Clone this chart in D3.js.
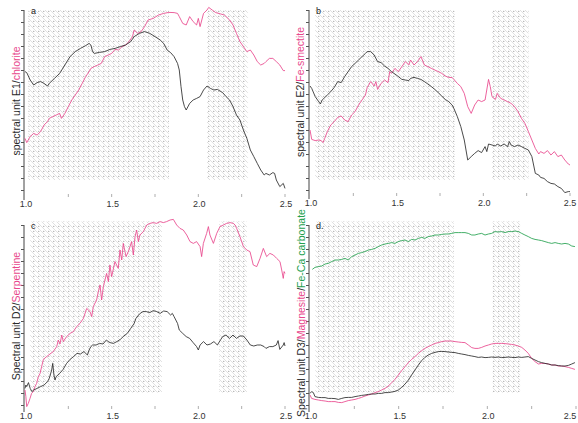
<!DOCTYPE html>
<html>
<head>
<meta charset="utf-8">
<script src="https://cdn.jsdelivr.net/npm/d3@7"></script>
<style>
  body { margin: 0; background: #fff; }
  svg { display: block; font-family: "Liberation Sans", Arial, sans-serif; }
</style>
</head>
<body>
<div id="chart"></div>
<script>
// wavelength (um) and relative reflectance

// panel a
var wlE1 = [1.00,1.01,1.03,1.05,1.07,1.09,1.11,1.13,1.14,1.17,1.20,1.23,1.26,1.29,1.32,1.35,1.37,1.38,1.39,1.40,
  1.43,1.46,1.49,1.52,1.55,1.58,1.61,1.63,1.66,1.69,1.72,1.75,1.78,1.80,1.82,1.84,1.86,1.88,1.89,1.90,
  1.91,1.92,1.93,1.95,1.97,1.99,2.01,2.03,2.05,2.07,2.09,2.11,2.13,2.14,2.16,2.18,2.20,2.22,2.24,2.26,
  2.28,2.30,2.32,2.34,2.36,2.38,2.39,2.41,2.43,2.44,2.45,2.47,2.49,2.50];
var unitE1 = [64.2,63.7,60.0,57.5,58.7,59.2,58.3,57.0,58.3,60.8,63.3,67.5,71.7,74.2,75.8,77.2,78.3,77.5,74.2,73.3,
  73.8,74.2,75.3,75.8,76.7,77.5,79.2,81.7,83.3,84.2,83.3,81.7,80.0,78.3,75.0,73.7,71.7,68.3,65.0,56.7,
  50.0,46.7,45.0,48.3,50.0,50.8,51.7,55.0,57.0,55.8,55.0,55.3,54.2,53.7,51.7,50.0,46.7,42.5,40.0,35.0,
  30.8,25.0,21.7,18.3,15.0,12.5,13.3,12.5,13.7,13.3,10.0,6.7,8.3,5.8];
var wlChl = [1.00,1.01,1.03,1.05,1.07,1.09,1.11,1.13,1.14,1.16,1.18,1.20,1.21,1.23,1.25,1.27,1.29,1.31,1.33,1.35,
  1.37,1.38,1.40,1.42,1.44,1.46,1.48,1.50,1.52,1.54,1.56,1.58,1.60,1.62,1.63,1.65,1.67,1.69,1.71,1.74,
  1.77,1.80,1.83,1.86,1.88,1.89,1.91,1.93,1.95,1.97,1.99,2.00,2.01,2.03,2.05,2.06,2.08,2.10,2.13,2.15,
  2.18,2.20,2.22,2.24,2.26,2.28,2.30,2.32,2.34,2.36,2.38,2.39,2.41,2.43,2.45,2.47,2.49,2.50];
var chlorite = [30.8,28.7,31.7,33.3,32.5,34.2,37.5,39.2,40.8,41.7,42.5,43.3,40.8,43.3,46.7,50.0,52.5,55.0,58.3,61.7,
  64.2,65.8,66.7,67.5,68.3,71.7,72.5,73.3,75.3,75.0,76.7,77.5,79.2,81.7,85.0,83.3,84.2,86.7,90.0,90.8,
  92.5,93.3,93.8,93.7,93.3,91.7,88.3,87.5,91.7,89.2,87.5,90.8,86.7,93.3,95.0,96.3,95.0,93.7,93.0,92.5,
  90.0,87.5,83.3,79.2,76.7,74.2,75.0,72.5,69.2,67.5,68.3,69.2,70.8,70.8,69.2,67.5,64.7,64.7];

// panel b
var wlE2 = [1.00,1.01,1.03,1.05,1.06,1.07,1.08,1.10,1.12,1.14,1.16,1.18,1.20,1.22,1.24,1.26,1.28,1.30,1.32,1.33,
  1.35,1.37,1.39,1.41,1.43,1.45,1.47,1.49,1.51,1.53,1.55,1.57,1.58,1.60,1.62,1.64,1.66,1.68,1.70,1.72,
  1.74,1.76,1.78,1.80,1.82,1.83,1.85,1.87,1.89,1.91,1.93,1.95,1.97,1.99,2.01,2.02,2.03,2.05,2.07,2.08,
  2.10,2.12,2.14,2.15,2.16,2.18,2.20,2.22,2.24,2.26,2.28,2.30,2.32,2.33,2.35,2.37,2.39,2.41,2.43,2.45,
  2.47,2.49,2.50];
var unitE2 = [57.0,55.8,51.7,49.2,48.0,50.0,50.8,52.5,54.2,56.3,59.2,58.7,61.7,64.2,66.7,68.3,70.0,71.7,73.3,74.2,
  74.2,72.5,69.2,68.7,67.0,65.8,64.2,63.0,61.7,60.3,60.0,59.7,60.8,61.3,60.8,60.3,59.2,58.0,56.7,55.3,
  53.7,52.0,50.3,49.2,47.5,45.8,41.7,36.7,30.0,20.0,21.7,23.3,24.7,23.7,26.7,24.2,28.0,27.5,27.0,28.0,
  27.0,28.0,26.7,29.2,27.5,26.7,27.5,26.7,25.8,25.0,21.7,13.3,12.5,11.3,10.8,9.2,8.3,8.0,6.7,5.8,
  3.7,4.2,4.2];
var wlSme = [1.00,1.01,1.03,1.05,1.065,1.075,1.085,1.10,1.12,1.14,1.16,1.18,1.20,1.22,1.24,1.26,1.28,1.30,1.32,1.33,
  1.35,1.37,1.38,1.39,1.41,1.43,1.45,1.46,1.47,1.49,1.51,1.53,1.55,1.57,1.58,1.60,1.62,1.64,1.66,1.68,
  1.70,1.72,1.74,1.76,1.78,1.80,1.82,1.83,1.85,1.87,1.89,1.91,1.93,1.95,1.97,1.99,2.01,2.03,2.04,2.05,
  2.07,2.08,2.10,2.12,2.14,2.16,2.18,2.20,2.22,2.24,2.26,2.28,2.30,2.32,2.33,2.35,2.37,2.39,2.41,2.43,
  2.45,2.47,2.49,2.50];
var smectite = [35.0,30.3,29.7,30.0,29.7,28.7,30.8,34.2,37.5,39.2,41.3,42.0,40.0,39.2,42.5,44.2,47.5,50.0,52.5,56.3,
  59.2,57.0,59.2,55.3,58.3,60.0,58.7,64.2,63.3,65.8,64.2,66.7,69.2,67.5,70.0,67.5,69.2,71.7,67.5,66.7,
  65.8,65.0,64.2,63.3,62.0,61.3,61.2,60.3,58.3,56.7,53.3,46.7,43.3,47.5,50.0,49.2,50.0,60.3,56.7,51.7,
  50.3,53.3,50.8,50.0,49.2,48.3,46.7,44.2,40.8,38.3,34.2,30.0,25.8,23.0,24.2,23.3,24.7,22.5,24.2,21.7,
  22.5,20.0,18.0,17.5];

// panel c
var wlD2 = [1.00,1.005,1.01,1.02,1.03,1.04,1.05,1.07,1.09,1.11,1.13,1.14,1.154,1.16,1.167,1.173,1.18,1.20,1.22,1.24,
  1.26,1.28,1.30,1.32,1.34,1.36,1.37,1.38,1.39,1.41,1.43,1.45,1.47,1.48,1.49,1.51,1.53,1.55,1.57,1.59,
  1.61,1.63,1.64,1.66,1.68,1.70,1.72,1.74,1.76,1.78,1.80,1.82,1.84,1.85,1.86,1.88,1.89,1.91,1.93,1.95,
  1.97,1.99,2.00,2.01,2.03,2.05,2.07,2.09,2.11,2.13,2.14,2.16,2.18,2.20,2.22,2.24,2.26,2.28,2.30,2.32,
  2.34,2.36,2.38,2.39,2.41,2.43,2.45,2.46,2.47,2.49,2.495,2.50];
var unitD2 = [10.8,12.5,11.7,13.7,10.8,9.2,10.0,10.8,11.7,12.5,14.2,15.8,20.0,23.3,17.5,15.0,16.7,18.3,20.3,23.3,
  25.3,26.7,28.3,28.0,29.2,27.5,30.0,31.7,32.5,32.5,33.3,33.0,35.0,34.2,33.7,33.3,34.2,35.3,37.0,38.3,
  40.8,43.3,45.8,48.0,49.2,49.2,48.7,49.7,49.2,48.3,49.5,49.2,47.5,48.3,46.7,43.3,40.0,38.3,36.7,35.8,
  33.7,31.7,30.0,32.5,34.2,32.5,33.0,34.2,32.5,35.3,36.7,37.5,35.8,37.5,35.8,37.0,37.0,35.0,32.5,32.0,
  32.5,32.5,31.7,30.8,31.7,31.7,32.5,34.7,30.3,32.5,33.7,32.0];
var wlSrp = [1.000,1.005,1.010,1.019,1.029,1.038,1.048,1.058,1.067,1.077,1.087,1.096,1.106,1.125,1.144,1.163,1.183,1.192,1.202,1.212,
  1.221,1.240,1.260,1.279,1.298,1.317,1.337,1.356,1.375,1.385,1.394,1.413,1.423,1.433,1.442,1.452,1.471,1.481,1.490,1.500,
  1.519,1.538,1.548,1.558,1.567,1.583,1.596,1.606,1.615,1.625,1.635,1.644,1.654,1.663,1.683,1.702,1.721,1.740,1.760,1.779,
  1.798,1.817,1.837,1.856,1.875,1.894,1.913,1.933,1.952,1.971,1.990,2.010,2.019,2.029,2.048,2.058,2.067,2.087,2.106,2.125,
  2.144,2.163,2.183,2.202,2.212,2.221,2.240,2.260,2.279,2.298,2.317,2.337,2.356,2.375,2.394,2.413,2.433,2.452,2.471,2.481,
  2.490,2.495,2.500];
var serpentine = [10.0,6.7,1.7,3.3,5.8,8.3,9.2,11.7,13.3,16.7,18.3,21.7,25.3,26.7,28.0,29.2,31.7,35.0,33.0,37.5,
  34.2,36.7,38.3,39.2,41.7,43.3,45.8,50.8,49.2,46.7,51.7,55.0,59.2,62.5,55.0,61.7,68.3,64.2,72.5,66.7,
  74.2,70.8,80.0,75.0,83.3,76.7,79.2,81.7,84.2,77.5,86.7,90.0,84.2,87.5,89.2,92.5,93.3,93.7,93.3,94.2,
  93.7,94.2,95.0,95.3,92.5,90.8,90.0,87.5,84.2,83.3,84.2,81.7,76.7,83.3,88.3,91.7,87.5,83.3,88.3,91.7,
  92.5,93.3,93.7,93.3,92.5,90.8,86.7,81.7,80.0,79.2,72.5,71.7,75.8,80.8,76.7,78.3,77.5,75.8,74.2,70.0,
  65.8,69.2,68.3];

// panel d
var wlD3 = [1.000,1.009,1.019,1.028,1.047,1.066,1.085,1.103,1.122,1.141,1.160,1.179,1.197,1.216,1.235,1.254,1.273,1.291,1.310,1.329,
  1.348,1.367,1.385,1.404,1.423,1.442,1.461,1.479,1.498,1.517,1.536,1.555,1.573,1.592,1.611,1.630,1.648,1.667,1.686,1.705,
  1.724,1.743,1.761,1.780,1.799,1.818,1.836,1.855,1.874,1.893,1.912,1.930,1.949,1.968,1.987,2.006,2.024,2.043,2.062,2.081,
  2.100,2.118,2.137,2.156,2.175,2.194,2.212,2.231,2.250,2.269,2.288,2.306,2.325,2.344,2.363,2.382,2.400,2.419,2.438,2.457,
  2.476,2.494];
var unitD3 = [8.3,9.2,8.7,6.7,6.3,6.2,6.2,5.8,5.8,5.7,5.3,5.8,6.2,6.3,6.3,6.7,7.0,7.3,7.5,7.8,
  8.0,8.0,8.3,8.3,8.7,8.7,9.0,9.3,10.0,11.3,13.0,15.0,17.5,20.0,22.5,24.7,26.3,27.5,28.3,28.8,
  29.2,29.3,29.2,29.0,28.8,28.7,28.3,28.0,27.7,27.3,27.0,26.7,26.3,26.5,26.2,26.3,26.5,26.3,26.5,26.2,
  26.3,26.5,26.3,26.2,26.5,26.3,26.5,26.7,25.8,25.0,24.2,23.7,23.3,23.0,22.5,22.5,22.2,22.0,22.0,22.3,
  23.0,23.7];
var wlMgs = [1.000,1.009,1.028,1.047,1.066,1.085,1.103,1.122,1.141,1.160,1.179,1.197,1.216,1.235,1.254,1.273,1.291,1.310,1.329,
  1.348,1.367,1.385,1.404,1.423,1.442,1.461,1.479,1.498,1.517,1.536,1.555,1.573,1.592,1.611,1.630,1.648,1.667,1.686,1.705,
  1.724,1.743,1.761,1.780,1.799,1.818,1.836,1.855,1.874,1.893,1.912,1.930,1.949,1.968,1.987,2.006,2.024,2.043,2.062,2.081,
  2.100,2.118,2.137,2.156,2.175,2.194,2.212,2.231,2.250,2.269,2.288,2.306,2.325,2.344,2.363,2.382,2.400,2.419,2.438,2.457,
  2.476,2.494];
var magnesite = [7.5,5.8,5.3,5.0,4.7,4.5,4.2,4.2,4.2,3.8,3.7,4.2,4.7,5.0,5.3,5.8,6.3,7.0,7.5,8.0,
  8.7,9.2,10.0,10.8,12.0,13.7,15.3,17.5,19.7,21.7,23.7,25.3,26.7,28.3,29.7,30.8,31.7,32.5,33.3,33.7,
  34.2,34.5,34.5,34.5,34.2,34.0,33.8,33.7,32.5,31.2,30.8,30.8,31.3,32.0,32.5,33.0,33.3,33.3,33.3,33.2,
  33.0,32.8,32.5,32.0,31.3,30.0,28.3,25.8,24.2,23.0,23.3,23.3,23.0,22.5,22.5,22.0,22.0,21.7,21.3,20.8,
  20.3];
var wlCarb = [1.013,1.028,1.047,1.066,1.085,1.103,1.122,1.141,1.160,1.179,1.197,1.216,1.235,1.254,1.273,1.291,1.310,1.329,
  1.348,1.367,1.385,1.404,1.423,1.442,1.461,1.479,1.498,1.517,1.536,1.555,1.573,1.592,1.611,1.630,1.648,1.667,1.686,1.705,
  1.724,1.743,1.761,1.780,1.799,1.818,1.836,1.855,1.874,1.893,1.912,1.930,1.949,1.968,1.987,2.006,2.024,2.043,2.062,2.081,
  2.100,2.118,2.137,2.156,2.175,2.194,2.212,2.231,2.250,2.269,2.288,2.306,2.325,2.344,2.363,2.382,2.400,2.419,2.438,2.457,
  2.476,2.494];
var carbonate = [70.3,71.3,71.7,72.0,73.0,73.3,74.2,75.0,75.0,75.3,75.8,75.0,76.7,77.5,78.3,78.7,79.2,80.0,80.3,80.8,
  81.7,82.5,83.0,83.3,83.7,83.3,84.2,84.7,85.0,84.2,85.3,85.0,85.8,86.3,85.8,86.7,87.0,87.5,87.5,87.8,
  88.0,88.0,88.3,88.7,88.7,88.7,88.7,88.3,87.5,87.5,88.0,88.3,87.5,88.0,88.3,89.2,89.0,89.2,88.7,89.2,
  89.2,89.5,89.2,88.3,87.5,86.7,85.8,85.3,85.0,84.7,84.2,83.7,83.3,83.7,83.3,83.0,83.3,83.0,82.0,81.7];

// shaded wavelength windows per panel
var bandsA = [[1.02, 1.83], [2.05, 2.285]];
var bandsB = [[1.03, 1.835], [2.05, 2.26]];
var bandsC = [[1.03, 1.79], [2.12, 2.28]];
var bandsD = [[1.03, 1.81], [2.03, 2.185]];

var xTicks = [1.0, 1.25, 1.5, 1.75, 2.0, 2.25, 2.5];
var xLabels = [1.0, 1.5, 2.0, 2.5];

var pink = "#e8478c", green = "#23a04e", dark = "#2b2b2b";

var panels = [
  { letter: "a", x: [25, 285], y: [200, 0], axisTop: 95, axisBot: 1, shade: [95, 10], bands: bandsA,
    titleX: 20, titleY: 101,
    title: [["spectral unit E1/", dark], ["chlorite", pink]],
    series: [[wlChl, chlorite, pink], [wlE1, unitE1, dark]] },
  { letter: "b", x: [310, 570], y: [200, 0], axisTop: 95, axisBot: 1.5, shade: [95, 10], bands: bandsB,
    titleX: 304, titleY: 92,
    title: [["spectral unit E2/", dark], ["Fe-smectite", pink]],
    series: [[wlSme, smectite, pink], [wlE2, unitE2, dark]] },
  { letter: "c", x: [25, 285], y: [410, 210], axisTop: 92.5, axisBot: 0, shade: [94.2, 8.7], bands: bandsC,
    titleX: 20, titleY: 316,
    title: [["Spectral unit D2/", dark], ["Serpentine", pink]],
    series: [[wlSrp, serpentine, pink], [wlD2, unitD2, dark]] },
  { letter: "d.", x: [310, 576], y: [410, 210], axisTop: 92.5, axisBot: 0, shade: [94.2, 8.7], bands: bandsD,
    titleX: 305, titleY: 313,
    title: [["Spectral unit D3/", dark], ["Magnesite", pink], ["/", dark], ["Fe-Ca carbonate", green]],
    series: [[wlCarb, carbonate, green], [wlMgs, magnesite, pink], [wlD3, unitD3, dark]] }
];

var svg = d3.select("#chart").append("svg")
  .attr("width", 578)
  .attr("height", 423);

// hatch + dot fill for the shaded windows
var pat = svg.append("defs").append("pattern")
  .attr("id", "hatch")
  .attr("width", 5)
  .attr("height", 5)
  .attr("patternUnits", "userSpaceOnUse");
pat.append("path")
  .attr("d", "M0,0 L5,5 M-1,4 L1,6 M4,-1 L6,1")
  .attr("stroke", "#d2d2d2")
  .attr("stroke-width", 0.7);
pat.append("circle")
  .attr("cx", 3.8).attr("cy", 1.3).attr("r", 0.5)
  .attr("fill", "#6a6a6a");

panels.forEach(function(p) {
  var x = d3.scaleLinear().domain([1, 2.5]).range(p.x);
  var y = d3.scaleLinear().domain([0, 100]).range(p.y);
  var g = svg.append("g");

  // shaded windows
  g.selectAll("rect.band")
    .data(p.bands)
    .enter()
    .append("rect")
    .attr("class", "band")
    .attr("x", d => x(d[0]))
    .attr("width", d => x(d[1]) - x(d[0]))
    .attr("y", y(p.shade[0]))
    .attr("height", y(p.shade[1]) - y(p.shade[0]))
    .attr("fill", "url(#hatch)");

  // left axis, unlabelled ticks
  var yAxis = d3.axisLeft(y)
    .tickValues(d3.range(p.axisTop, p.axisBot, -6))
    .tickSize(3)
    .tickSizeOuter(0)
    .tickFormat("");
  var ya = g.append("g")
    .attr("transform", `translate(${p.x[0] - 1},0)`)
    .call(yAxis);
  ya.select(".domain").attr("d", `M0,${y(p.axisTop)}V${y(p.axisBot) + 2}`).attr("stroke", "#444");
  ya.selectAll(".tick line").attr("stroke", "#555");

  // bottom ticks and labels, no axis line
  var base = y(p.axisBot);
  g.selectAll("line.xt")
    .data(xTicks.slice(1))
    .enter()
    .append("line")
    .attr("class", "xt")
    .attr("x1", d => x(d)).attr("x2", d => x(d))
    .attr("y1", base - 4).attr("y2", base - 1)
    .attr("stroke", "#999")
    .attr("stroke-width", 0.8);
  g.selectAll("text.xl")
    .data(xLabels)
    .enter()
    .append("text")
    .attr("class", "xl")
    .attr("x", d => Math.min(x(d) + 1, 570))
    .attr("y", base + 9)
    .attr("text-anchor", "middle")
    .attr("font-size", 9)
    .attr("fill", "#333")
    .text(d => d.toFixed(1));

  // spectra
  var line = d3.line()
    .x(d => x(d[0]))
    .y(d => y(d[1]));
  p.series.forEach(function(s) {
    g.append("path")
      .datum(d3.zip(s[0], s[1]))
      .attr("d", line)
      .attr("fill", "none")
      .attr("stroke", s[2])
      .attr("stroke-width", 0.85)
      .attr("stroke-linejoin", "round");
  });

  // panel letter
  g.append("text")
    .attr("x", p.x[0] + 6)
    .attr("y", y(p.axisTop) + 4)
    .attr("font-size", 9)
    .attr("fill", "#222")
    .text(p.letter);

  // y title in two colours
  var t = g.append("text")
    .attr("transform", `translate(${p.titleX},${p.titleY}) rotate(-90)`)
    .attr("text-anchor", "middle")
    .attr("font-size", 10.5);
  p.title.forEach(function(part) {
    t.append("tspan").attr("fill", part[1]).text(part[0]);
  });
});
</script>
</body>
</html>
